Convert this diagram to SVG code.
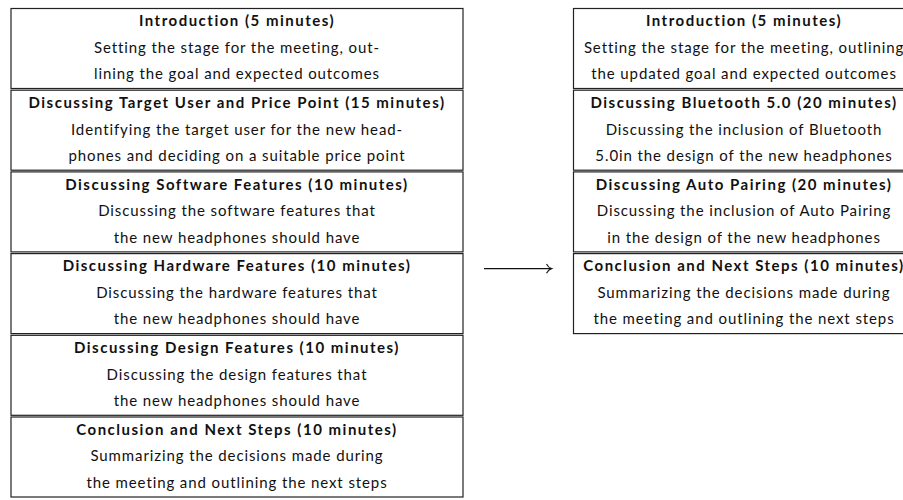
<svg xmlns="http://www.w3.org/2000/svg" width="903" height="500" viewBox="0 0 903 500">
<style>
.box{fill:#fff;stroke:#222;stroke-width:1.2}
text{font-family:Lato,"Open Sans",sans-serif;font-size:15px;fill:#111;text-anchor:middle;letter-spacing:0.9px}
.t{font-weight:bold;letter-spacing:1.5px}
.conn{stroke:#111;stroke-width:1.1;fill:none}
</style>
<rect width="903" height="500" fill="#fff"/>
<g id="left-1"><rect class="box" x="11" y="8.5" width="452" height="80"/>
<text class="t" x="237" y="26">Introduction (5 minutes)</text>
<text x="237" y="52.5">Setting the stage for the meeting, out-</text>
<text x="237" y="79">lining the goal and expected outcomes</text></g>
<g id="left-2"><rect class="box" x="11" y="90.2" width="452" height="80"/>
<text class="t" x="237" y="108">Discussing Target User and Price Point (15 minutes)</text>
<text x="237" y="134.5">Identifying the target user for the new head-</text>
<text x="237" y="161">phones and deciding on a suitable price point</text></g>
<g id="left-3"><rect class="box" x="11" y="171.9" width="452" height="80"/>
<text class="t" x="237" y="189.7">Discussing Software Features (10 minutes)</text>
<text x="237" y="216.2">Discussing the software features that</text>
<text x="237" y="242.7">the new headphones should have</text></g>
<g id="left-4"><rect class="box" x="11" y="253.6" width="452" height="80"/>
<text class="t" x="237" y="271.4">Discussing Hardware Features (10 minutes)</text>
<text x="237" y="297.9">Discussing the hardware features that</text>
<text x="237" y="324.4">the new headphones should have</text></g>
<g id="left-5"><rect class="box" x="11" y="335.3" width="452" height="80"/>
<text class="t" x="237" y="353.1">Discussing Design Features (10 minutes)</text>
<text x="237" y="379.6">Discussing the design features that</text>
<text x="237" y="406.1">the new headphones should have</text></g>
<g id="left-6"><rect class="box" x="11" y="417" width="452" height="80"/>
<text class="t" x="237" y="434.8">Conclusion and Next Steps (10 minutes)</text>
<text x="237" y="461.3">Summarizing the decisions made during</text>
<text x="237" y="487.8">the meeting and outlining the next steps</text></g>
<g id="right-1"><rect class="box" x="573.5" y="8.5" width="342" height="80"/>
<text class="t" x="744" y="26">Introduction (5 minutes)</text>
<text x="744" y="52.5">Setting the stage for the meeting, outlining</text>
<text x="744" y="79">the updated goal and expected outcomes</text></g>
<g id="right-2"><rect class="box" x="573.5" y="90.2" width="342" height="80"/>
<text class="t" x="744" y="108">Discussing Bluetooth 5.0 (20 minutes)</text>
<text x="744" y="134.5">Discussing the inclusion of Bluetooth</text>
<text x="744" y="161">5.0in the design of the new headphones</text></g>
<g id="right-3"><rect class="box" x="573.5" y="171.9" width="342" height="80"/>
<text class="t" x="744" y="189.7">Discussing Auto Pairing (20 minutes)</text>
<text x="744" y="216.2">Discussing the inclusion of Auto Pairing</text>
<text x="744" y="242.7">in the design of the new headphones</text></g>
<g id="right-4"><rect class="box" x="573.5" y="253.6" width="342" height="80"/>
<text class="t" x="744" y="271.4">Conclusion and Next Steps (10 minutes)</text>
<text x="744" y="297.9">Summarizing the decisions made during</text>
<text x="744" y="324.4">the meeting and outlining the next steps</text></g>
<g id="connectors">
<line class="conn" x1="484" y1="268.6" x2="551" y2="268.6"/>
<path class="conn" d="M546.5,264 Q548.5,267.8 551.5,268.6 Q548.5,269.4 546.5,273.2"/>
</g>
</svg>
